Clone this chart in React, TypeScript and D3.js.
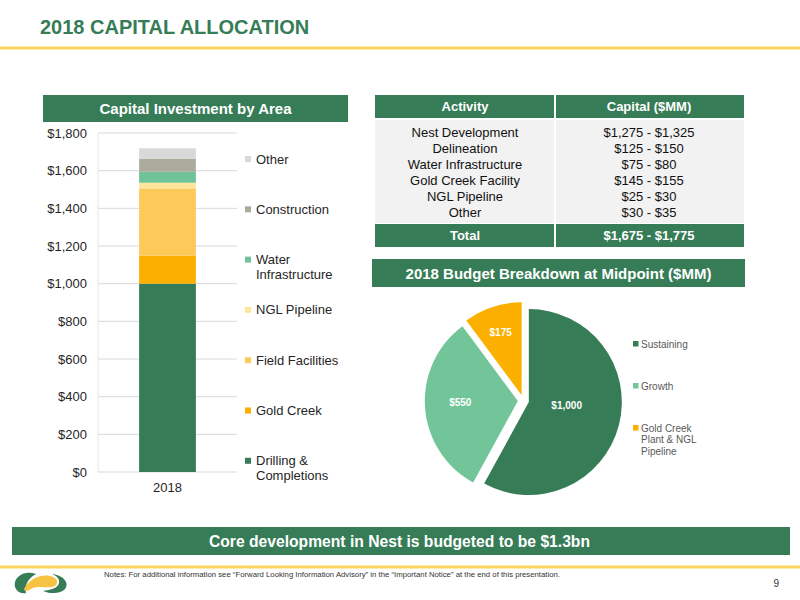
import React from "react";
import * as d3 from "d3";

// ---------- DATA ----------
const barCategories = ["2018"];
const barSeries = [
  "Drilling & Completions",
  "Gold Creek",
  "Field Facilities",
  "NGL Pipeline",
  "Water Infrastructure",
  "Construction",
  "Other",
];
const barValues = [1000, 148, 358, 30, 58, 70, 55];
const barLegendLines = [
  ["Drilling &", "Completions"],
  ["Gold Creek"],
  ["Field Facilities"],
  ["NGL Pipeline"],
  ["Water", "Infrastructure"],
  ["Construction"],
  ["Other"],
];
const yTicks = [0, 200, 400, 600, 800, 1000, 1200, 1400, 1600, 1800];

const tableHeaders = ["Activity", "Capital ($MM)"];
const tableActivities = [
  "Nest Development",
  "Delineation",
  "Water Infrastructure",
  "Gold Creek Facility",
  "NGL Pipeline",
  "Other",
];
const tableCapital = [
  "$1,275 - $1,325",
  "$125 - $150",
  "$75 - $80",
  "$145 - $155",
  "$25 - $30",
  "$30 - $35",
];
const tableTotal = ["Total", "$1,675 - $1,775"];

const pieNames = ["Sustaining", "Growth", "Gold Creek Plant & NGL Pipeline"];
const pieValues = [1000, 550, 175];
const pieValueLabels = ["$1,000", "$550", "$175"];
const pieLegendLines = [["Sustaining"], ["Growth"], ["Gold Creek", "Plant & NGL", "Pipeline"]];

// ---------- STYLE ----------
const GREEN = "#367c57";
const YELLOW_LINE = "#fcd65c";
const barColors = ["#367c57", "#fbb000", "#fdca5a", "#fde69b", "#6fc398", "#adab9d", "#d9d9d9"];
const pieColors = ["#367c57", "#72c499", "#fbb000"];
const pieLabelFrac = [0.42, 0.62, 0.72];
const pieLabelDy = [-6, -2, 1];
const FONT = "'Liberation Sans', Arial, Helvetica, sans-serif";

export default function App() {
  // Bar chart scales
  const y = d3.scaleLinear().domain([0, 1800]).range([472, 133]);
  const x = d3.scaleBand().domain(barCategories).range([98, 237]).padding(0.42);
  const stackRow: any = { cat: barCategories[0] };
  barSeries.forEach((s, i) => (stackRow[s] = barValues[i]));
  const stacked = d3.stack().keys(barSeries)([stackRow]);
  const fmt = d3.format(",");

  // Pie
  const cx = 523.4, cy = 400.6, r = 93, explode = 5.6;
  const pie = d3.pie<number>().sort(null).value((d) => d)(pieValues);
  const arc = d3.arc<d3.PieArcDatum<number>>().innerRadius(0).outerRadius(r);

  return (
    <svg
      width={800}
      height={600}
      style={{ position: "absolute", left: 0, top: 0, background: "#fff" }}
      fontFamily={FONT}
    >
      {/* Title */}
      <text x={40} y={34} fontSize={20} fontWeight="bold" fill={GREEN}>
        2018 CAPITAL ALLOCATION
      </text>
      <rect x={0} y={46.5} width={800} height={3} fill={YELLOW_LINE} />

      {/* Left header */}
      <rect x={43} y={95} width={305} height={27} fill={GREEN} />
      <text x={195.5} y={114} fontSize={15} fontWeight="bold" fill="#fff" textAnchor="middle">
        Capital Investment by Area
      </text>

      {/* Gridlines and y axis */}
      {yTicks.map((t) => (
        <g key={t}>
          <line x1={98} x2={237} y1={y(t)} y2={y(t)} stroke="#d9d9d9" strokeWidth={1} />
          <text x={87} y={y(t) + 4.5} fontSize={13} fill="#262626" textAnchor="end">
            {"$" + fmt(t)}
          </text>
        </g>
      ))}
      <line x1={98} x2={98} y1={y(1800)} y2={y(0)} stroke="#e6e6e6" strokeWidth={1} />

      {/* Stacked bar */}
      {stacked.map((layer, i) =>
        layer.map((d, j) => (
          <rect
            key={i + "-" + j}
            x={x(barCategories[j])}
            width={x.bandwidth()}
            y={y(d[1])}
            height={y(d[0]) - y(d[1])}
            fill={barColors[i]}
          />
        ))
      )}
      <text x={(x(barCategories[0]) as number) + x.bandwidth() / 2} y={492} fontSize={13} fill="#262626" textAnchor="middle">
        {barCategories[0]}
      </text>

      {/* Bar legend */}
      {barSeries
        .map((s, i) => i)
        .reverse()
        .map((i, k) => {
          const yc = 159 + k * 50.3;
          return (
            <g key={i}>
              <rect x={245} y={yc - 3} width={6} height={6} fill={barColors[i]} />
              {barLegendLines[i].map((ln, li) => (
                <text key={li} x={256} y={yc + 4.5 + li * 15} fontSize={13} fill="#262626">
                  {ln}
                </text>
              ))}
            </g>
          );
        })}

      {/* Table */}
      <rect x={375} y={95} width={369} height={23} fill={GREEN} />
      <rect x={375} y={120} width={369} height={103} fill="#f2f2f2" />
      <rect x={375} y={224} width={369} height={23} fill={GREEN} />
      <line x1={555} x2={555} y1={95} y2={247} stroke="#fff" strokeWidth={2} />
      <text x={465} y={111} fontSize={13} fontWeight="bold" fill="#fff" textAnchor="middle">
        {tableHeaders[0]}
      </text>
      <text x={649} y={111} fontSize={13} fontWeight="bold" fill="#fff" textAnchor="middle">
        {tableHeaders[1]}
      </text>
      {tableActivities.map((a, i) => (
        <g key={a}>
          <text x={465} y={137 + i * 16} fontSize={13} fill="#111" textAnchor="middle">
            {a}
          </text>
          <text x={649} y={137 + i * 16} fontSize={13} fill="#111" textAnchor="middle">
            {tableCapital[i]}
          </text>
        </g>
      ))}
      <text x={465} y={240} fontSize={13} fontWeight="bold" fill="#fff" textAnchor="middle">
        {tableTotal[0]}
      </text>
      <text x={649} y={240} fontSize={13} fontWeight="bold" fill="#fff" textAnchor="middle">
        {tableTotal[1]}
      </text>

      {/* Pie header */}
      <rect x={372} y={259} width={373} height={28} fill={GREEN} />
      <text x={558.5} y={278.5} fontSize={15} fontWeight="bold" fill="#fff" textAnchor="middle">
        2018 Budget Breakdown at Midpoint ($MM)
      </text>

      {/* Pie */}
      {pie.map((p, i) => {
        const mid = (p.startAngle + p.endAngle) / 2;
        const ox = cx + explode * Math.sin(mid);
        const oy = cy - explode * Math.cos(mid);
        const lr = r * pieLabelFrac[i];
        const lx = ox + lr * Math.sin(mid);
        const ly = oy - lr * Math.cos(mid) + pieLabelDy[i];
        return (
          <g key={i}>
            <path d={arc(p) as string} transform={`translate(${ox},${oy})`} fill={pieColors[i]} />
            <text x={lx} y={ly + 3.5} fontSize={10} fontWeight="bold" fill="#fff" textAnchor="middle">
              {pieValueLabels[i]}
            </text>
          </g>
        );
      })}

      {/* Pie legend */}
      {pieNames.map((n, i) => {
        const yc = 344 + i * 42;
        return (
          <g key={n}>
            <rect x={633} y={yc - 3} width={5.5} height={5.5} fill={pieColors[i]} />
            {pieLegendLines[i].map((ln, li) => (
              <text key={li} x={641} y={yc + 3.5 + li * 11.7} fontSize={10} fill="#595959">
                {ln}
              </text>
            ))}
          </g>
        );
      })}

      {/* Bottom banner */}
      <rect x={12} y={527} width={778} height={28} fill={GREEN} />
      <text
        x={209}
        y={547}
        fontSize={17}
        fontWeight="bold"
        fill="#fff"
        textLength={381}
        lengthAdjust="spacingAndGlyphs"
      >
        Core development in Nest is budgeted to be $1.3bn
      </text>
      <rect x={0} y={565.5} width={800} height={3} fill={YELLOW_LINE} />

      {/* Logo */}
      <g>
        <path
          d="M36,574 C22,569 11,580 16,589 C18,593 23,594 26,593 C24,586 28,578 36,574 Z"
          fill={GREEN}
        />
        <path
          d="M24,589 C29,579 40,574 50,576 C56,577 59,581 56,585 C50,590 41,585 33,588 C29,590 25,593 24,589 Z"
          fill="#f6c343"
        />
        <path
          d="M52,574 C63,575 70,583 65,589 C61,594 49,594 43,591 C51,590 58,588 59,583 C60,579 57,576 52,574 Z"
          fill={GREEN}
        />
      </g>

      {/* Notes */}
      <text
        x={104}
        y={577}
        fontSize={7}
        fill="#333"
        textLength={456}
        lengthAdjust="spacingAndGlyphs"
      >
        {"Notes: For additional information see \u201CForward Looking Information Advisory\u201D in the \u201CImportant Notice\u201D at the end of this presentation."}
      </text>
      <text x={779} y={587} fontSize={10} fill="#333" textAnchor="end">
        9
      </text>
    </svg>
  );
}
